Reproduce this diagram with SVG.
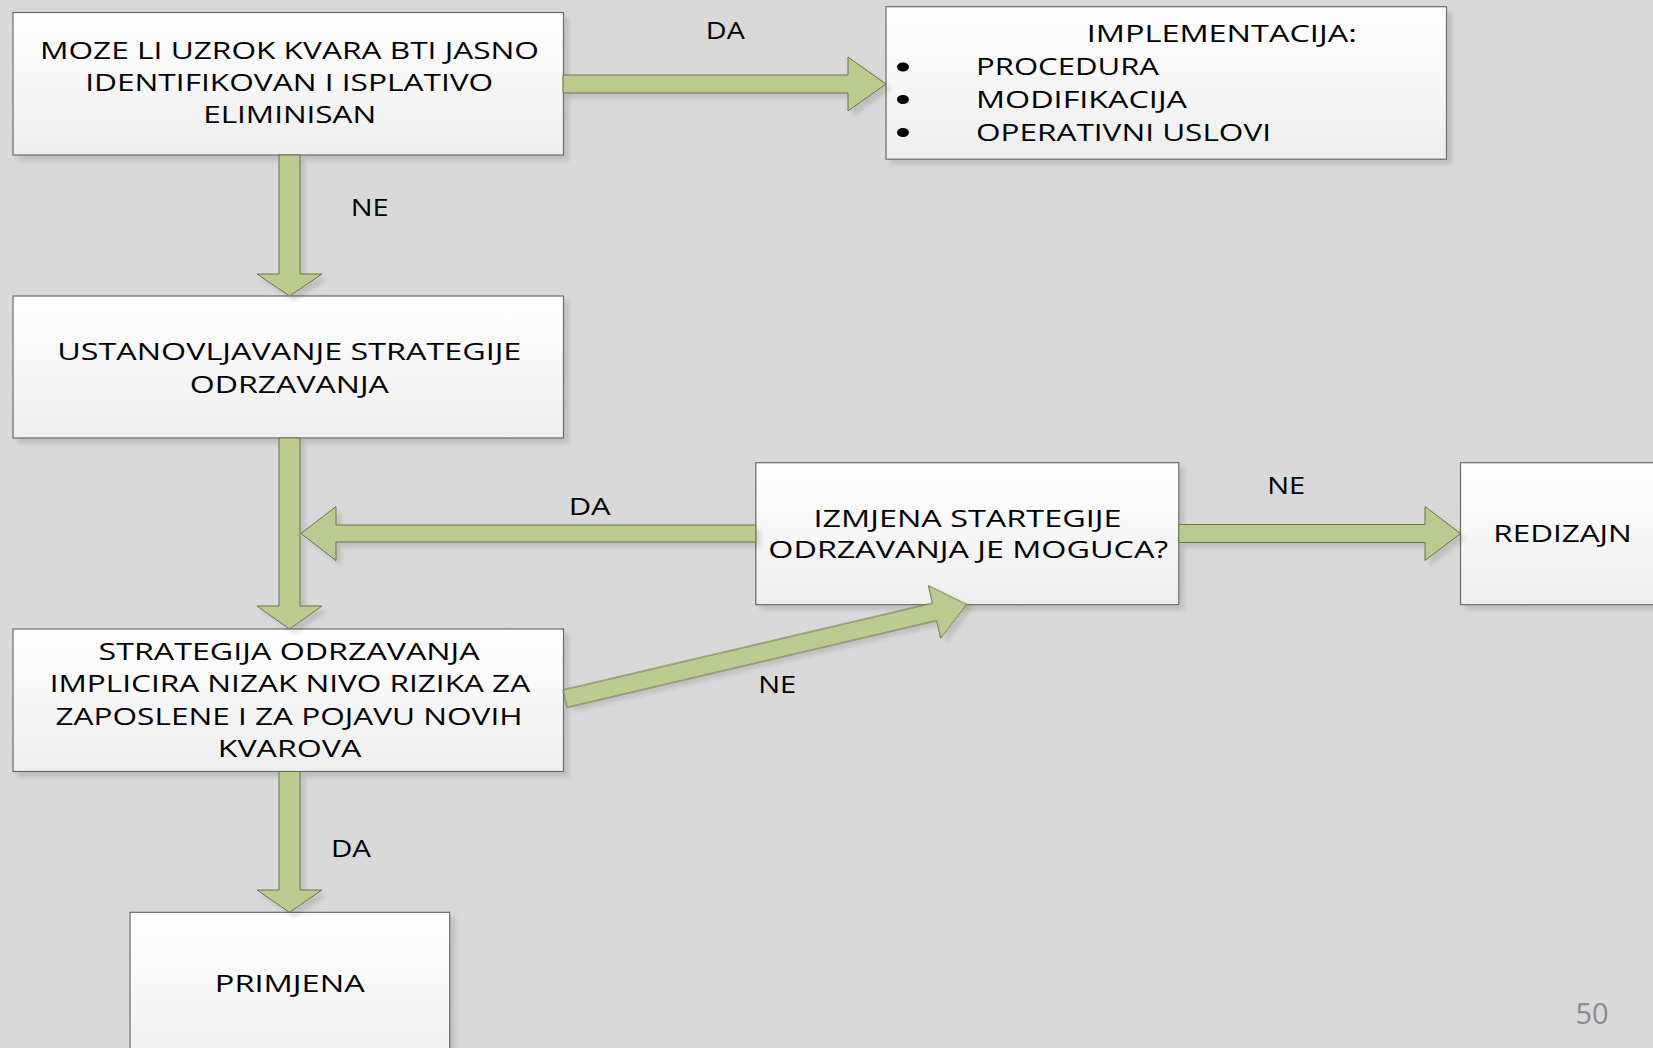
<svg xmlns="http://www.w3.org/2000/svg" width="1653" height="1048" viewBox="0 0 1653 1048">
<defs>
<linearGradient id="boxGrad" x1="0" y1="0" x2="0" y2="1">
<stop offset="0" stop-color="#ffffff"/>
<stop offset="1" stop-color="#eeeeee"/>
</linearGradient>
<filter id="shadow" x="-10%" y="-10%" width="130%" height="130%">
<feGaussianBlur in="SourceAlpha" stdDeviation="2"/>
<feOffset dx="5" dy="5" result="off"/>
<feComponentTransfer><feFuncA type="linear" slope="0.12"/></feComponentTransfer>
<feMerge><feMergeNode/><feMergeNode in="SourceGraphic"/></feMerge>
</filter>
</defs>
<style>
.box{fill:url(#boxGrad);stroke:#6a6a6a;stroke-width:1.2;filter:url(#shadow)}
.t{font-family:"Open Sans","Liberation Sans",sans-serif;font-size:24px;fill:#000;text-anchor:middle}
.ts{font-family:"Open Sans","Liberation Sans",sans-serif;font-size:24px;fill:#000;text-anchor:start}
.arr{fill:#bbca8f;stroke:#66734a;stroke-width:1;filter:url(#shadow)}
.bul{fill:#000}
.pg{font-family:"Open Sans","Liberation Sans",sans-serif;font-size:29px;fill:#8c8c8c;text-anchor:middle}
</style>
<rect x="0" y="0" width="1653" height="1048" fill="#d9d9d9"/>

<g id="node-uzrok">
<rect class="box" x="13" y="12.5" width="550.5" height="142.5"/>
<text class="t" x="289.5" y="59" textLength="499" lengthAdjust="spacingAndGlyphs">MOZE LI UZROK KVARA BTI JASNO</text>
<text class="t" x="289.2" y="91" textLength="408" lengthAdjust="spacingAndGlyphs">IDENTIFIKOVAN I ISPLATIVO</text>
<text class="t" x="289.7" y="123" textLength="173" lengthAdjust="spacingAndGlyphs">ELIMINISAN</text>
</g>

<g id="node-implementacija">
<rect class="box" x="886" y="6.7" width="560.5" height="152.5"/>
<text class="t" x="1221.7" y="42" textLength="270" lengthAdjust="spacingAndGlyphs">IMPLEMENTACIJA:</text>
<ellipse class="bul" cx="903" cy="67" rx="6" ry="4.6"/>
<ellipse class="bul" cx="903" cy="99.5" rx="6" ry="4.6"/>
<ellipse class="bul" cx="903" cy="132.5" rx="6" ry="4.6"/>
<text class="ts" x="976" y="75" textLength="183" lengthAdjust="spacingAndGlyphs">PROCEDURA</text>
<text class="ts" x="976" y="107.5" textLength="211" lengthAdjust="spacingAndGlyphs">MODIFIKACIJA</text>
<text class="ts" x="976" y="140.5" textLength="295" lengthAdjust="spacingAndGlyphs">OPERATIVNI USLOVI</text>
</g>

<g id="node-ustanovljavanje">
<rect class="box" x="13" y="296" width="550.5" height="142"/>
<text class="t" x="289.3" y="360" textLength="464" lengthAdjust="spacingAndGlyphs">USTANOVLJAVANJE STRATEGIJE</text>
<text class="t" x="289.3" y="392.5" textLength="199" lengthAdjust="spacingAndGlyphs">ODRZAVANJA</text>
</g>

<g id="node-izmjena">
<rect class="box" x="755.8" y="462.7" width="423" height="142"/>
<text class="t" x="967.5" y="526.5" textLength="308" lengthAdjust="spacingAndGlyphs">IZMJENA STARTEGIJE</text>
<text class="t" x="968.3" y="558.3" textLength="400" lengthAdjust="spacingAndGlyphs">ODRZAVANJA JE MOGUCA?</text>
</g>

<g id="node-redizajn">
<rect class="box" x="1460.5" y="462.7" width="220" height="142"/>
<text class="t" x="1562.5" y="541.7" textLength="138.5" lengthAdjust="spacingAndGlyphs">REDIZAJN</text>
</g>

<g id="node-strategija">
<rect class="box" x="13" y="629" width="550.5" height="142.5"/>
<text class="t" x="289.1" y="660" textLength="381" lengthAdjust="spacingAndGlyphs">STRATEGIJA ODRZAVANJA</text>
<text class="t" x="289.9" y="692.3" textLength="480.5" lengthAdjust="spacingAndGlyphs">IMPLICIRA NIZAK NIVO RIZIKA ZA</text>
<text class="t" x="289" y="725" textLength="467" lengthAdjust="spacingAndGlyphs">ZAPOSLENE I ZA POJAVU NOVIH</text>
<text class="t" x="289.5" y="757" textLength="143.5" lengthAdjust="spacingAndGlyphs">KVAROVA</text>
</g>

<g id="node-primjena">
<rect class="box" x="130" y="912.3" width="319.7" height="160"/>
<text class="t" x="289.8" y="992" textLength="150" lengthAdjust="spacingAndGlyphs">PRIMJENA</text>
</g>

<g id="connectors">
<polygon class="arr" points="279,155 300,155 300,274 322,274 289.5,296 257,274 279,274"/>
<polygon class="arr" points="563,75 848,75 848,57 886,84 848,111 848,93 563,93"/>
<polygon class="arr" points="279,438 300,438 300,606 322,606 289.5,629 257,606 279,606"/>
<polygon class="arr" points="755.8,525 336,525 336,506.5 301,533.5 336,560.5 336,542 755.8,542"/>
<polygon class="arr" points="1178.8,524.5 1425,524.5 1425,506.5 1460.5,533.5 1425,560.5 1425,542.5 1178.8,542.5"/>
<g transform="translate(565,698.7) rotate(-13.22)">
<polygon class="arr" points="0,-9 379.6,-9 379.6,-27 412.6,0 379.6,27 379.6,9 0,9"/>
</g>
<polygon class="arr" points="279,771.5 300,771.5 300,890 322,890 289.5,912.3 257,890 279,890"/>
<text class="t" x="725.3" y="38.5" textLength="39" lengthAdjust="spacingAndGlyphs">DA</text>
<text class="t" x="369.7" y="215.5" textLength="38" lengthAdjust="spacingAndGlyphs">NE</text>
<text class="t" x="589.7" y="515" textLength="42" lengthAdjust="spacingAndGlyphs">DA</text>
<text class="t" x="1286.2" y="494" textLength="38" lengthAdjust="spacingAndGlyphs">NE</text>
<text class="t" x="777.2" y="692.7" textLength="38" lengthAdjust="spacingAndGlyphs">NE</text>
<text class="t" x="351" y="857" textLength="40" lengthAdjust="spacingAndGlyphs">DA</text>
</g>

<text class="pg" x="1592" y="1024">50</text>
</svg>
